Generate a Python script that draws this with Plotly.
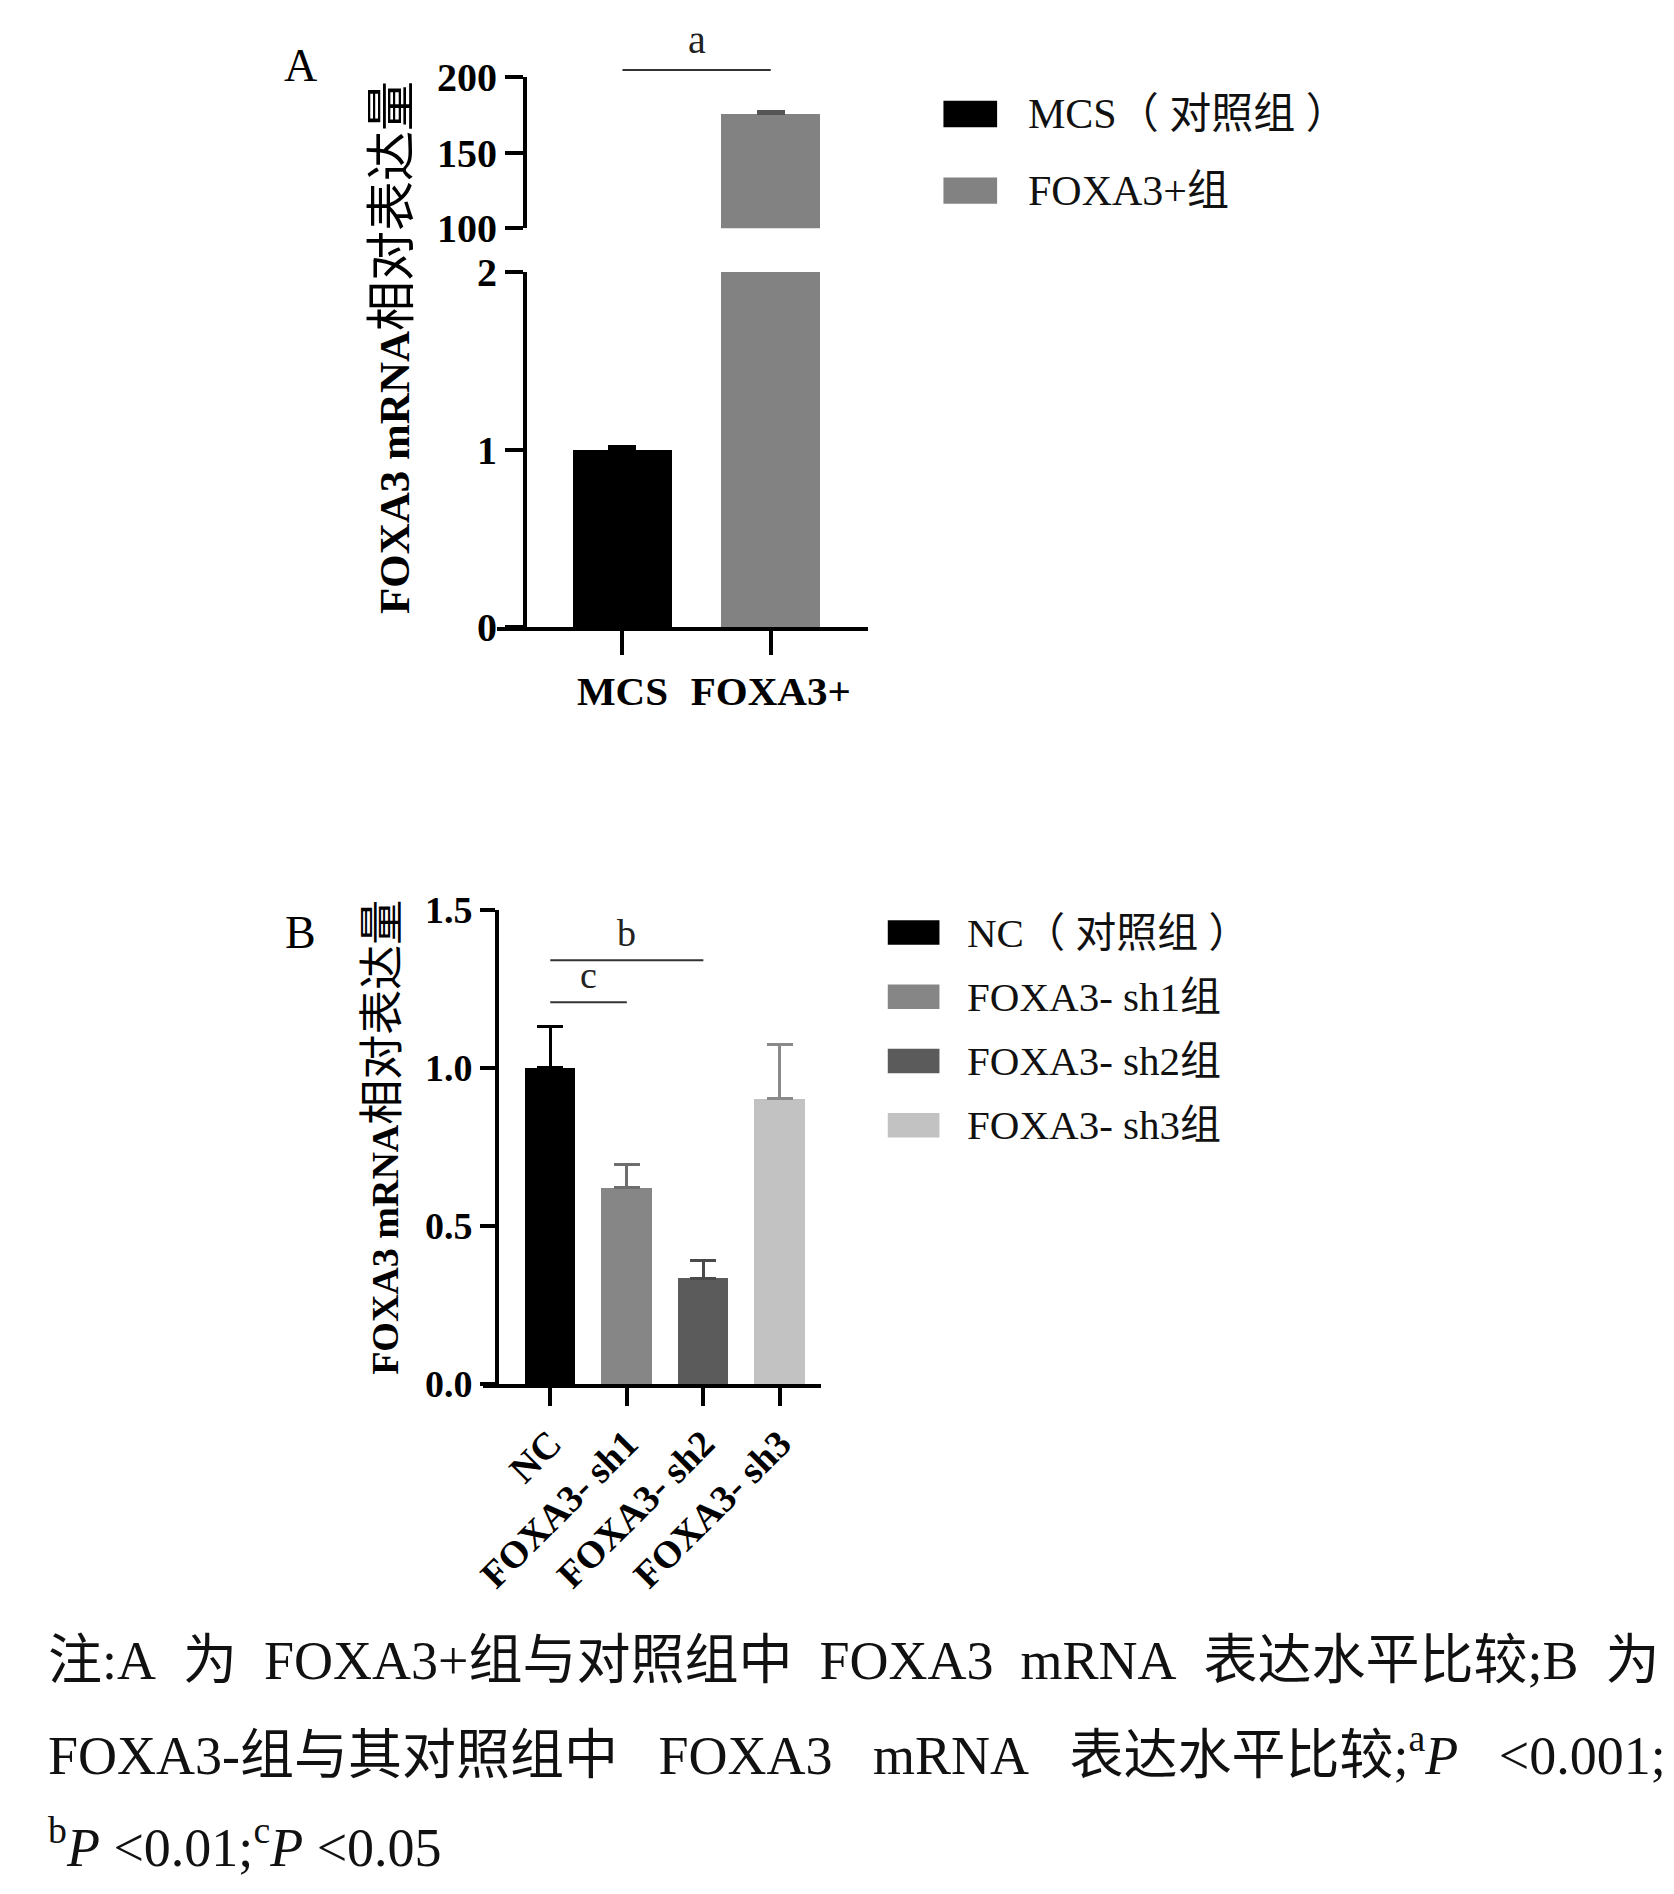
import plotly.graph_objects as go

# panel A data
groups_a = ["MCS", "FOXA3+"]
mean_a = [1.0, 175.5]
err_a = [0.02, 1.5]
colors_a = ["#000000", "#828282"]
legend_a = ["MCS（ 对照组 ）", "FOXA3+组"]
ticks_low_a = [0, 1, 2]
ticks_high_a = [100, 150, 200]

# panel B data
groups_b = ["NC", "FOXA3- sh1", "FOXA3- sh2", "FOXA3- sh3"]
mean_b = [1.0, 0.62, 0.335, 0.902]
err_b = [0.13, 0.075, 0.055, 0.17]
colors_b = ["#000000", "#868686", "#5b5b5b", "#c2c2c2"]
errcolors_b = ["#000000", "#6e6e6e", "#4a4a4a", "#8a8a8a"]
legend_b = ["NC（ 对照组 ）", "FOXA3- sh1组", "FOXA3- sh2组", "FOXA3- sh3组"]
ticks_b = [0, 0.5, 1.0, 1.5]

# significance brackets: (from, to, label, height)
sig_a = [(0, 1, "a", 204.6)]
sig_b = [(0, 2, "b", 1.34), (0, 1, "c", 1.207)]

caption = [
    "注:A 为 FOXA3+组与对照组中 FOXA3 mRNA 表达水平比较;B 为",
    "FOXA3-组与其对照组中 FOXA3 mRNA 表达水平比较;<sup>a</sup><i>P</i> &lt;0.001;",
    "<sup>b</sup><i>P</i> &lt;0.01;<sup>c</sup><i>P</i> &lt;0.05",
]

W, H = 1674, 1894
SERIF = "Liberation Serif, Noto Sans CJK SC"


def px(x):
    return x / W


def py(y):
    return 1 - y / H


fig = go.Figure()

# A: lower segment (0-2)
fig.add_trace(go.Bar(
    x=list(range(len(groups_a))), y=mean_a, xaxis="x", yaxis="y",
    marker=dict(color=colors_a, line=dict(width=0)), width=0.665,
    error_y=dict(type="data", array=[e if m <= 2 else 0 for m, e in zip(mean_a, err_a)],
                 arrayminus=[0] * len(err_a), symmetric=False,
                 color="#000000", thickness=3, width=14),
    showlegend=False))
# A: upper segment (100-200)
hi = [i for i, m in enumerate(mean_a) if m > 2]
fig.add_trace(go.Bar(
    x=hi, y=[mean_a[i] for i in hi], xaxis="x", yaxis="y2",
    marker=dict(color=[colors_a[i] for i in hi], line=dict(width=0)), width=0.665,
    error_y=dict(type="data", array=[err_a[i] for i in hi], arrayminus=[0] * len(hi),
                 symmetric=False, color="#555555", thickness=3, width=14),
    showlegend=False))

# B bars
for i, g in enumerate(groups_b):
    fig.add_trace(go.Bar(
        x=[i], y=[mean_b[i]], xaxis="x2", yaxis="y3",
        marker=dict(color=colors_b[i], line=dict(width=0)), width=0.66,
        error_y=dict(type="data", array=[err_b[i]], arrayminus=[0], symmetric=False,
                     color=errcolors_b[i], thickness=3, width=13),
        showlegend=False))

axstyle = dict(showline=True, linewidth=4, linecolor="black", ticks="outside",
               tickwidth=4, tickcolor="black", showgrid=False, zeroline=False)

dom_y2 = [py(203), py(48)]

fig.update_layout(
    width=W, height=H, margin=dict(l=0, r=0, t=0, b=0),
    paper_bgcolor="white", plot_bgcolor="white", bargap=0,
    xaxis=dict(domain=[px(482), px(855)], anchor="y", range=[-0.845, 1.655],
               tickvals=list(range(len(groups_a))), ticktext=groups_a, ticklen=24,
               tickfont=dict(family="Liberation Serif", size=41, color="black", weight="bold"),
               **axstyle),
    yaxis=dict(domain=[py(612), py(248)], anchor="free", position=px(510),
               range=[0, 2], tickvals=ticks_low_a, ticklen=18,
               tickfont=dict(family="Liberation Serif", size=40, color="black", weight="bold"),
               **axstyle),
    yaxis2=dict(domain=dom_y2, anchor="free", position=px(510),
                range=[100, 200], tickvals=ticks_high_a, ticklen=18,
                tickfont=dict(family="Liberation Serif", size=40, color="black", weight="bold"),
                **axstyle),
    xaxis2=dict(domain=[px(468), px(808)], anchor="y3", range=[-0.876, 3.539],
                tickvals=list(range(len(groups_b))), ticktext=groups_b,
                tickangle=-45, ticklen=18,
                tickfont=dict(family="Liberation Serif", size=38, color="black", weight="bold"),
                **axstyle),
    yaxis3=dict(domain=[py(1387), py(901)], anchor="free", position=px(482),
                range=[0, 1.5], tickvals=ticks_b, tickformat=".1f", ticklen=15,
                tickfont=dict(family="Liberation Serif", size=38, color="black", weight="bold"),
                **axstyle),
)

shapes = []
annos = []


def y2_to_paper(v):
    return dom_y2[0] + (v - 100) / 100 * (dom_y2[1] - dom_y2[0])


# significance brackets
for a, b, lab, h in sig_a:
    shapes.append(dict(type="line", xref="x", yref="paper", x0=a, x1=b,
                       y0=y2_to_paper(h), y1=y2_to_paper(h),
                       line=dict(color="#333333", width=2)))
    annos.append(dict(xref="x", yref="paper", x=(a + b) / 2, y=y2_to_paper(h + 4), text=lab,
                      showarrow=False, xanchor="center", yanchor="bottom",
                      font=dict(family=SERIF, size=40, color="#222222")))
for a, b, lab, h in sig_b:
    shapes.append(dict(type="line", xref="x2", yref="y3", x0=a, x1=b, y0=h, y1=h,
                       line=dict(color="#333333", width=2)))
    annos.append(dict(xref="x2", yref="y3", x=(a + b) / 2, y=h + 0.012, text=lab,
                      showarrow=False, xanchor="center", yanchor="bottom",
                      font=dict(family=SERIF, size=38, color="#222222")))

# legends
for i, (lab, c) in enumerate(zip(legend_a, colors_a)):
    yc = 86 + i * 78.6
    shapes.append(dict(type="rect", xref="paper", yref="paper", x0=px(931), x1=px(985),
                       y0=py(yc - 13.5), y1=py(yc + 13.5), fillcolor=c, line=dict(width=0)))
    annos.append(dict(xref="paper", yref="paper", x=px(1014), y=py(yc), text=lab,
                      showarrow=False, xanchor="left", yanchor="middle",
                      font=dict(family=SERIF, size=42, color="#111111")))
for i, (lab, c) in enumerate(zip(legend_b, colors_b)):
    yc = 924.5 + i * 65.8
    shapes.append(dict(type="rect", xref="paper", yref="paper", x0=px(875), x1=px(927),
                       y0=py(yc - 12.5), y1=py(yc + 12.5), fillcolor=c, line=dict(width=0)))
    annos.append(dict(xref="paper", yref="paper", x=px(953), y=py(yc), text=lab,
                      showarrow=False, xanchor="left", yanchor="middle",
                      font=dict(family=SERIF, size=41, color="#111111")))

# panel letters
for lab, (lx, ly) in zip(["A", "B"], [(284, 36), (284, 924)]):
    annos.append(dict(xref="paper", yref="paper", x=px(lx), y=py(ly), text=lab,
                      showarrow=False, xanchor="center", yanchor="middle",
                      font=dict(family=SERIF, size=46, color="black")))

# y titles
ytitle = "<b>FOXA3 mRNA</b><span style='font-size:{}px'>相对表达量</span>"
annos.append(dict(xref="paper", yref="paper", x=px(377), y=py(325), textangle=-90,
                  text=ytitle.format(50), showarrow=False,
                  xanchor="center", yanchor="middle",
                  font=dict(family=SERIF, size=43, color="black")))
annos.append(dict(xref="paper", yref="paper", x=px(367), y=py(1134), textangle=-90,
                  text=ytitle.format(45), showarrow=False,
                  xanchor="center", yanchor="middle",
                  font=dict(family=SERIF, size=38, color="black")))

# caption
for line, ly, sp in zip(caption, [1671, 1763, 1858],
                        ["\u00a0 ", "\u00a0\u00a0\u00a0", "\u00a0"]):
    annos.append(dict(xref="paper", yref="paper", x=px(28), y=py(ly),
                      text=line.replace(" ", sp), showarrow=False,
                      xanchor="left", yanchor="middle",
                      font=dict(family=SERIF, size=54, color="#111111")))

fig.update_layout(shapes=shapes, annotations=annos)
fig.write_html("out.html")
